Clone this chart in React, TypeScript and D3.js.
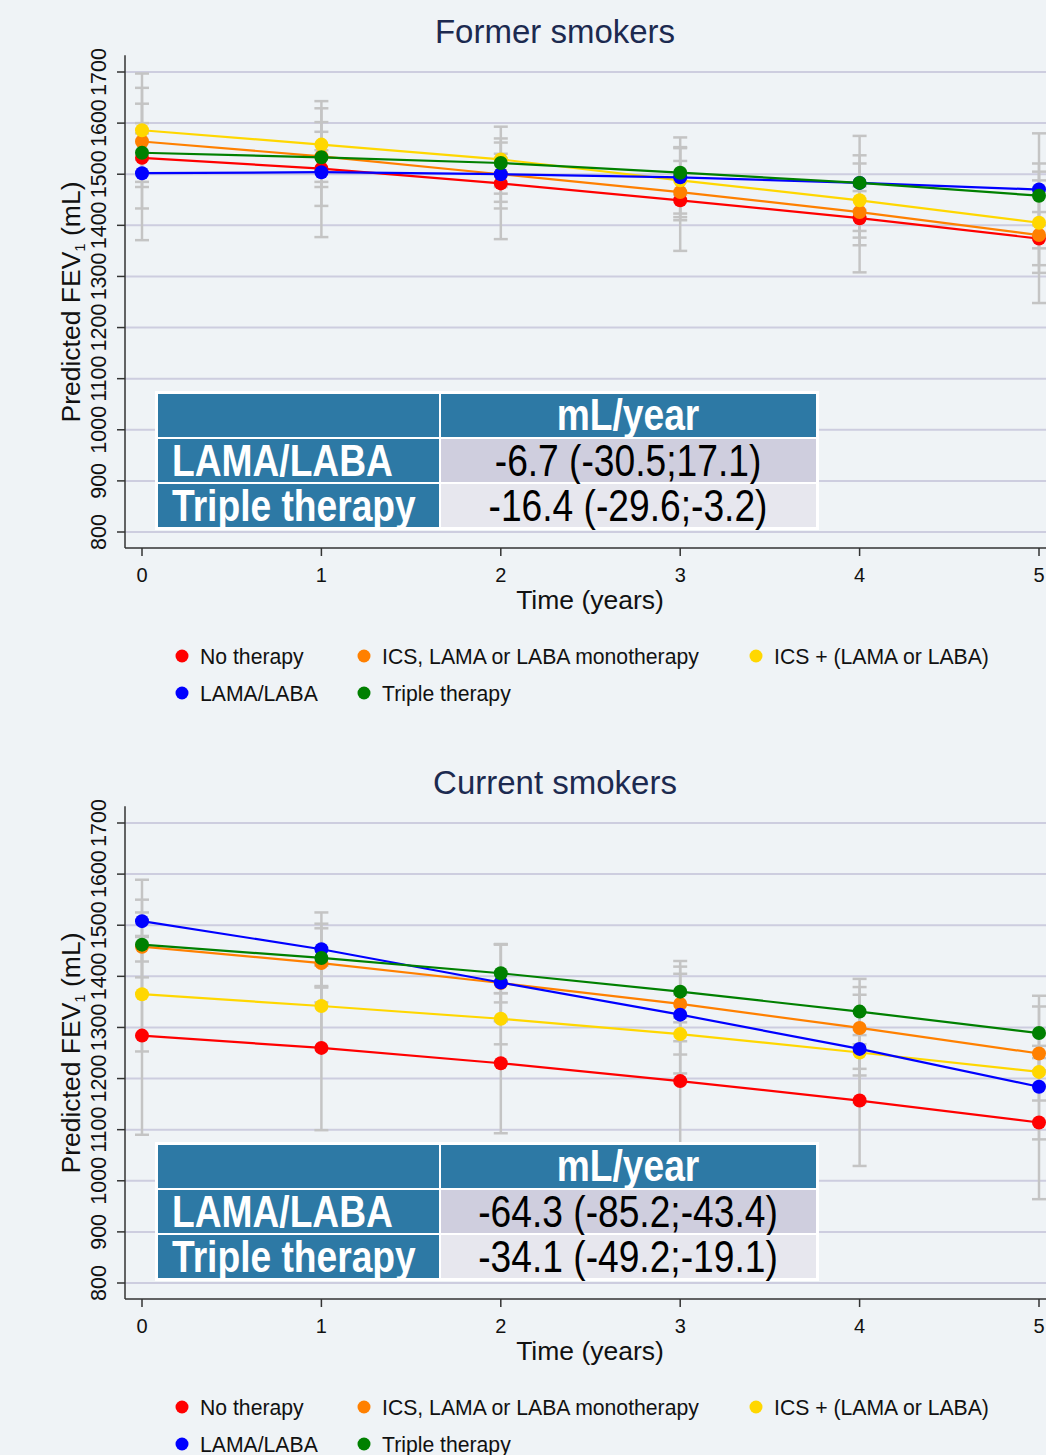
import React, { useRef, useEffect } from 'react';
import * as d3 from 'd3';

const years: number[] = [0, 1, 2, 3, 4, 5];
const yTicks: number[] = [800, 900, 1000, 1100, 1200, 1300, 1400, 1500, 1600, 1700];
const seriesNames: string[] = [
    'No therapy',
    'ICS, LAMA or LABA monotherapy',
    'ICS + (LAMA or LABA)',
    'LAMA/LABA',
    'Triple therapy',
];
const seriesColors: string[] = ['#ff0000', '#ff8000', '#ffd700', '#0000ff', '#008000'];

// Former smokers: predicted FEV1 per series (order as seriesNames)
const formerMean: number[][] = [
    [1532, 1511, 1482, 1449, 1414, 1374],
    [1564, 1535, 1500, 1465, 1426, 1381],
    [1586, 1558, 1529, 1488, 1449, 1405],
    [1502, 1504, 1500, 1494, 1483, 1470],
    [1542, 1533, 1522, 1503, 1483, 1458],
];
const formerLower: number[][] = [
    [1485, 1475, 1433, 1410, 1361, 1322],
    [1528, 1485, 1462, 1416, 1376, 1307],
    [1475, 1505, 1475, 1423, 1389, 1355],
    [1371, 1377, 1373, 1350, 1308, 1248],
    [1433, 1438, 1446, 1460, 1430, 1400],
];
const formerUpper: number[][] = [
    [1580, 1547, 1531, 1488, 1467, 1426],
    [1600, 1583, 1540, 1526, 1476, 1505],
    [1697, 1643, 1570, 1553, 1521, 1488],
    [1638, 1602, 1593, 1572, 1575, 1580],
    [1669, 1629, 1562, 1551, 1537, 1521],
];

// Current smokers
const currentMean: number[][] = [
    [1284, 1260, 1230, 1195, 1157, 1114],
    [1458, 1426, 1387, 1346, 1299, 1249],
    [1365, 1342, 1317, 1287, 1251, 1213],
    [1508, 1453, 1388, 1325, 1258, 1184],
    [1462, 1436, 1406, 1370, 1331, 1289],
];
const currentLower: number[][] = [
    [1090, 1099, 1093, 1071, 1029, 964],
    [1366, 1349, 1312, 1273, 1219, 1157],
    [1253, 1262, 1267, 1210, 1206, 1186],
    [1429, 1381, 1313, 1247, 1152, 1081],
    [1398, 1378, 1349, 1310, 1267, 1216],
];
const currentUpper: number[][] = [
    [1479, 1421, 1367, 1319, 1285, 1264],
    [1550, 1503, 1462, 1419, 1379, 1341],
    [1477, 1422, 1367, 1364, 1296, 1240],
    [1589, 1525, 1463, 1405, 1364, 1287],
    [1525, 1494, 1463, 1430, 1395, 1362],
];

const tableHeader: string = 'mL/year';
const tableRows: string[] = ['LAMA/LABA', 'Triple therapy'];
const formerRates: string[] = ['-6.7 (-30.5;17.1)', '-16.4 (-29.6;-3.2)'];
const currentRates: string[] = ['-64.3 (-85.2;-43.4)', '-34.1 (-49.2;-19.1)'];

const BG = '#eff3f6';
const GRID = '#cdcddf';
const BAR = '#c4c4c4';
const TABLE_BLUE = '#2d79a5';
const FONT = "'Liberation Sans', Arial, Helvetica, sans-serif";
const NARROW_SCALE = 0.845;

interface IPanel {
    title: string;
    mean: number[][];
    lower: number[][];
    upper: number[][];
    rates: string[];
    offset: number;
}

const panels: IPanel[] = [
    { title: 'Former smokers', mean: formerMean, lower: formerLower, upper: formerUpper, rates: formerRates, offset: 0 },
    { title: 'Current smokers', mean: currentMean, lower: currentLower, upper: currentUpper, rates: currentRates, offset: 751 },
];

const legendPos: [number, number][] = [[182, 0], [364, 0], [756, 0], [182, 37], [364, 37]];

function drawPanel(svg: d3.Selection<any, unknown, null, undefined>, p: IPanel) {
    const o = p.offset;
    const x = d3.scaleLinear().domain([0, 5]).range([142, 1039]);
    const y = d3.scaleLinear().domain([800, 1700]).range([532 + o, 72 + o]);
    const axisX = 125;
    const axisBottom = 548 + o;

    const g = svg.append('g');

    g.append('text')
        .attr('x', 555).attr('y', 43 + o)
        .attr('text-anchor', 'middle')
        .attr('font-family', FONT).attr('font-size', 33)
        .attr('fill', '#1c2a50')
        .text(p.title);

    // gridlines
    g.append('g').selectAll('line').data(yTicks).join('line')
        .attr('x1', axisX).attr('x2', 1046)
        .attr('y1', d => y(d)).attr('y2', d => y(d))
        .attr('stroke', GRID).attr('stroke-width', 2);

    // y axis
    g.append('line')
        .attr('x1', axisX).attr('x2', axisX)
        .attr('y1', y(1733)).attr('y2', axisBottom)
        .attr('stroke', '#333').attr('stroke-width', 1.5);
    g.append('g').selectAll('line').data(yTicks).join('line')
        .attr('x1', axisX - 8).attr('x2', axisX)
        .attr('y1', d => y(d)).attr('y2', d => y(d))
        .attr('stroke', '#333').attr('stroke-width', 1.5);
    g.append('g').selectAll('text').data(yTicks).join('text')
        .attr('transform', d => `translate(106,${y(d)}) rotate(-90)`)
        .attr('text-anchor', 'middle')
        .attr('font-family', FONT).attr('font-size', 21.5)
        .attr('fill', '#111')
        .text(d => d);

    const yt = g.append('text')
        .attr('transform', `translate(80,${302 + o}) rotate(-90)`)
        .attr('text-anchor', 'middle')
        .attr('font-family', FONT).attr('font-size', 26.5)
        .attr('fill', '#111');
    yt.append('tspan').text('Predicted FEV');
    yt.append('tspan').attr('font-size', 15).attr('dy', 5).text('1');
    yt.append('tspan').attr('dy', -5).text(' (mL)');

    // x axis
    g.append('line')
        .attr('x1', axisX).attr('x2', 1046)
        .attr('y1', axisBottom).attr('y2', axisBottom)
        .attr('stroke', '#333').attr('stroke-width', 1.5);
    g.append('g').selectAll('line').data(years).join('line')
        .attr('x1', d => x(d)).attr('x2', d => x(d))
        .attr('y1', axisBottom).attr('y2', axisBottom + 8)
        .attr('stroke', '#333').attr('stroke-width', 1.5);
    g.append('g').selectAll('text').data(years).join('text')
        .attr('x', d => x(d)).attr('y', 582 + o)
        .attr('text-anchor', 'middle')
        .attr('font-family', FONT).attr('font-size', 20)
        .attr('fill', '#111')
        .text(d => d);
    g.append('text')
        .attr('x', 590).attr('y', 609 + o)
        .attr('text-anchor', 'middle')
        .attr('font-family', FONT).attr('font-size', 26.5)
        .attr('fill', '#111')
        .text('Time (years)');

    // error bars
    const bars = g.append('g').attr('stroke', BAR).attr('stroke-width', 2.5);
    p.mean.forEach((_, i) => {
        years.forEach((yr, j) => {
            const lo = y(p.lower[i][j]);
            const hi = y(p.upper[i][j]);
            bars.append('line').attr('x1', x(yr)).attr('x2', x(yr)).attr('y1', lo).attr('y2', hi);
            bars.append('line').attr('x1', x(yr) - 7).attr('x2', x(yr) + 7).attr('y1', lo).attr('y2', lo);
            bars.append('line').attr('x1', x(yr) - 7).attr('x2', x(yr) + 7).attr('y1', hi).attr('y2', hi);
        });
    });

    // series
    const line = d3.line<number>().x((_, j) => x(years[j])).y(d => y(d));
    p.mean.forEach((vals, i) => {
        g.append('path')
            .attr('d', line(vals))
            .attr('fill', 'none')
            .attr('stroke', seriesColors[i])
            .attr('stroke-width', 2.2);
        g.append('g').selectAll('circle').data(vals).join('circle')
            .attr('cx', (_, j) => x(years[j]))
            .attr('cy', d => y(d))
            .attr('r', 7)
            .attr('fill', seriesColors[i]);
    });

    // table
    const t = g.append('g');
    t.append('rect').attr('x', 155).attr('y', 391 + o).attr('width', 664).attr('height', 139).attr('fill', '#fff');
    const rowsY = [394, 439, 484];
    const rowH = 43;
    const narrowText = (tx: number, ty: number, anchor: string, bold: boolean, fill: string, str: string) =>
        t.append('text')
            .attr('transform', `translate(${tx},${ty}) scale(${NARROW_SCALE},1)`)
            .attr('text-anchor', anchor)
            .attr('font-family', FONT)
            .attr('font-weight', bold ? 'bold' : 'normal')
            .attr('font-size', 44)
            .attr('fill', fill)
            .text(str);
    t.append('rect').attr('x', 158).attr('y', rowsY[0] + o).attr('width', 281).attr('height', rowH).attr('fill', TABLE_BLUE);
    t.append('rect').attr('x', 441).attr('y', rowsY[0] + o).attr('width', 375).attr('height', rowH).attr('fill', TABLE_BLUE);
    narrowText(628, rowsY[0] + 36 + o, 'middle', true, '#fff', tableHeader);
    const cellFill = ['#cfcede', '#e7e7ee'];
    tableRows.forEach((label, r) => {
        const ry = rowsY[r + 1] + o;
        t.append('rect').attr('x', 158).attr('y', ry).attr('width', 281).attr('height', rowH).attr('fill', TABLE_BLUE);
        t.append('rect').attr('x', 441).attr('y', ry).attr('width', 375).attr('height', rowH).attr('fill', cellFill[r]);
        narrowText(172, ry + 37, 'start', true, '#fff', label);
        narrowText(628, ry + 37, 'middle', false, '#000', p.rates[r]);
    });

    // legend
    const lg = g.append('g');
    seriesNames.forEach((name, i) => {
        const [lx, ly] = legendPos[i];
        lg.append('circle').attr('cx', lx).attr('cy', 656 + ly + o).attr('r', 6.5).attr('fill', seriesColors[i]);
        lg.append('text')
            .attr('x', lx + 18).attr('y', 663.5 + ly + o)
            .attr('font-family', FONT).attr('font-size', 21.2)
            .attr('fill', '#111')
            .text(name);
    });
}

function App() {
    const ref = useRef<SVGSVGElement>(null);

    useEffect(() => {
        if (!ref.current) return;
        const svg = d3.select(ref.current);
        svg.selectAll('*').remove();
        svg.append('rect').attr('width', 1046).attr('height', 1455).attr('fill', BG);
        panels.forEach(p => drawPanel(svg, p));
    }, []);

    return (
        <svg
            ref={ref}
            width={1046}
            height={1455}
            style={{ position: 'absolute', left: 0, top: 0, display: 'block' }}
        />
    );
}

export default App;
